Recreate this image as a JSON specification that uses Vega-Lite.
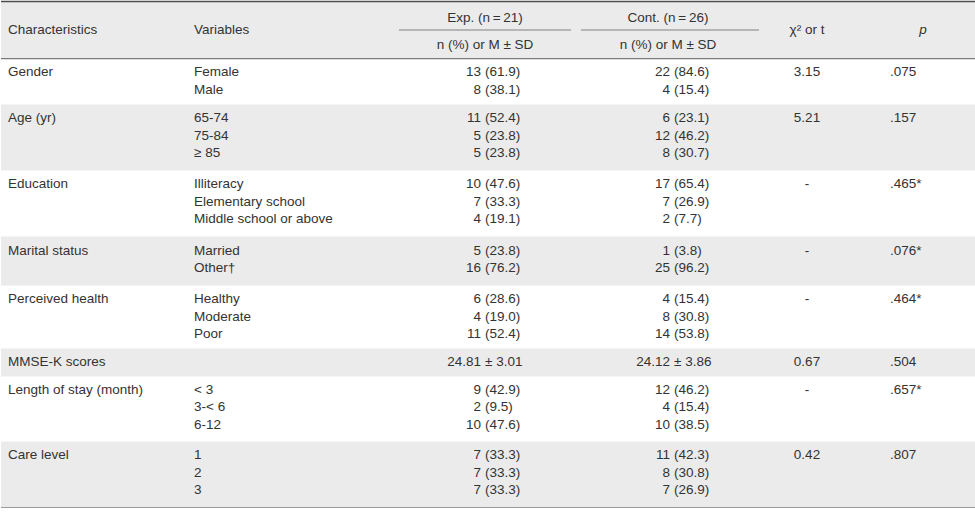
{
  "$schema": "https://vega.github.io/schema/vega-lite/v6.json",
  "width": 975,
  "height": 513,
  "autosize": {"type": "fit", "contains": "padding"},
  "padding": 0,
  "background": "#ffffff",
  "config": {
    "view": {"stroke": null},
    "text": {"font": "Liberation Sans", "fontSize": 13.5, "color": "#333333", "baseline": "middle"}
  },
  "datasets": {
    "bands": [
      {"part": "header", "r1": 0, "r2": 4},
      {"part": "Age (yr)", "r1": 6.5, "r2": 9.5},
      {"part": "Marital status", "r1": 12.5, "r2": 14.5},
      {"part": "MMSE-K scores", "r1": 17.5, "r2": 18.5},
      {"part": "Care level", "r1": 21.5, "r2": 24.5}
    ],
    "edges": [
      {"edge": "top", "at": 0},
      {"edge": "head", "at": 4},
      {"edge": "bottom", "at": 24.5}
    ],
    "spans": [
      {"group": "Exp.", "from": 3, "to": 7},
      {"group": "Cont.", "from": 8, "to": 12}
    ],
    "header": [
      {"label": "Characteristics", "col": 1, "line": 2},
      {"label": "Variables", "col": 2, "line": 2},
      {"label": "Exp. (n\u2009=\u200921)", "col": 5, "line": 1},
      {"label": "n (%) or M \u00b1 SD", "col": 5, "line": 3},
      {"label": "Cont. (n\u2009=\u200926)", "col": 10, "line": 1},
      {"label": "n (%) or M \u00b1 SD", "col": 10, "line": 3},
      {"label": "\u03c7\u00b2 or t", "col": 13, "line": 2},
      {"label": "p", "col": 15, "line": 2}
    ],
    "rows": [
      {"r": 5, "char": "Gender", "var": "Female", "en": "13", "ep": "(61.9)", "cn": "22", "cp": "(84.6)", "stat": "3.15", "p": ".075"},
      {"r": 6, "var": "Male", "en": "8", "ep": "(38.1)", "cn": "4", "cp": "(15.4)"},
      {"r": 7, "char": "Age (yr)", "var": "65-74", "en": "11", "ep": "(52.4)", "cn": "6", "cp": "(23.1)", "stat": "5.21", "p": ".157"},
      {"r": 8, "var": "75-84", "en": "5", "ep": "(23.8)", "cn": "12", "cp": "(46.2)"},
      {"r": 9, "var": "\u2265 85", "en": "5", "ep": "(23.8)", "cn": "8", "cp": "(30.7)"},
      {"r": 10, "char": "Education", "var": "Illiteracy", "en": "10", "ep": "(47.6)", "cn": "17", "cp": "(65.4)", "stat": "-", "p": ".465*"},
      {"r": 11, "var": "Elementary school", "en": "7", "ep": "(33.3)", "cn": "7", "cp": "(26.9)"},
      {"r": 12, "var": "Middle school or above", "en": "4", "ep": "(19.1)", "cn": "2", "cp": "(7.7)"},
      {"r": 13, "char": "Marital status", "var": "Married", "en": "5", "ep": "(23.8)", "cn": "1", "cp": "(3.8)", "stat": "-", "p": ".076*"},
      {"r": 14, "var": "Other\u2020", "en": "16", "ep": "(76.2)", "cn": "25", "cp": "(96.2)"},
      {"r": 15, "char": "Perceived health", "var": "Healthy", "en": "6", "ep": "(28.6)", "cn": "4", "cp": "(15.4)", "stat": "-", "p": ".464*"},
      {"r": 16, "var": "Moderate", "en": "4", "ep": "(19.0)", "cn": "8", "cp": "(30.8)"},
      {"r": 17, "var": "Poor", "en": "11", "ep": "(52.4)", "cn": "14", "cp": "(53.8)"},
      {"r": 18, "char": "MMSE-K scores", "en": "24.81", "ep": "\u00b1 3.01", "cn": "24.12", "cp": "\u00b1 3.86", "stat": "0.67", "p": ".504"},
      {"r": 19, "char": "Length of stay (month)", "var": "< 3", "en": "9", "ep": "(42.9)", "cn": "12", "cp": "(46.2)", "stat": "-", "p": ".657*"},
      {"r": 20, "var": "3-< 6", "en": "2", "ep": "(9.5)", "cn": "4", "cp": "(15.4)"},
      {"r": 21, "var": "6-12", "en": "10", "ep": "(47.6)", "cn": "10", "cp": "(38.5)"},
      {"r": 22, "char": "Care level", "var": "1", "en": "7", "ep": "(33.3)", "cn": "11", "cp": "(42.3)", "stat": "0.42", "p": ".807"},
      {"r": 23, "var": "2", "en": "7", "ep": "(33.3)", "cn": "8", "cp": "(30.8)"},
      {"r": 24, "var": "3", "en": "7", "ep": "(33.3)", "cn": "7", "cp": "(26.9)"}
    ]
  },
  "layer": [
    {
      "data": {"name": "bands"},
      "mark": {"type": "rect", "color": "#ebebeb"},
      "encoding": {
        "x": {"datum": 0, "type": "quantitative", "axis": null, "scale": {"type": "linear", "zero": false, "nice": false, "domain": [0,1,2,3,4,5,6,7,8,9,10,11,12,13,14,15,16], "range": [0,7,193,398,480,484,484,570,580,669,667,673,758,806,889,922,975]}},
        "x2": {"datum": 16},
        "y": {"field": "r1", "type": "quantitative", "axis": null, "scale": {"type": "linear", "zero": false, "nice": false, "domain": [0,1,2,3,4,5,6,6.5,7,8,9,9.5,10,11,12,12.5,13,14,14.5,15,16,17,17.5,18,18.5,19,20,21,21.5,22,23,24,24.5], "range": [1.5,18,30,45,58.5,72,89.6,104.5,118,135.6,153.2,170.5,184,201.6,219.2,236.5,250.5,268,285.5,299,316.6,334.2,348.5,362,376.5,389.5,407,424.5,441.5,455,472.6,490.2,507.5]}},
        "y2": {"field": "r2"}
      }
    },
    {
      "data": {"name": "edges"},
      "mark": {"type": "rule"},
      "encoding": {
        "x": {"datum": 0, "type": "quantitative"},
        "x2": {"datum": 16},
        "y": {"field": "at", "type": "quantitative"},
        "color": {"field": "edge", "type": "nominal", "legend": null, "scale": {"domain": ["top", "head", "bottom"], "range": ["#4d4d4d", "#7a7a7a", "#9a9a9a"]}},
        "strokeWidth": {"field": "edge", "type": "nominal", "legend": null, "scale": {"domain": ["top", "head", "bottom"], "range": [1.5, 1, 2]}}
      }
    },
    {
      "data": {"name": "spans"},
      "mark": {"type": "rule", "color": "#808080", "strokeWidth": 1},
      "encoding": {
        "x": {"field": "from", "type": "quantitative"},
        "x2": {"field": "to"},
        "y": {"datum": 2, "type": "quantitative"}
      }
    },
    {
      "data": {"name": "header"},
      "transform": [{"filter": "datum.col <= 2"}],
      "mark": {"type": "text", "align": "left"},
      "encoding": {
        "x": {"field": "col", "type": "quantitative"},
        "y": {"field": "line", "type": "quantitative"},
        "text": {"field": "label"}
      }
    },
    {
      "data": {"name": "header"},
      "transform": [{"filter": "datum.col > 2 && datum.label != 'p'"}],
      "mark": {"type": "text", "align": "center"},
      "encoding": {
        "x": {"field": "col", "type": "quantitative"},
        "y": {"field": "line", "type": "quantitative"},
        "text": {"field": "label"}
      }
    },
    {
      "data": {"name": "header"},
      "transform": [{"filter": "datum.label == 'p'"}],
      "mark": {"type": "text", "align": "center", "fontStyle": "italic"},
      "encoding": {
        "x": {"field": "col", "type": "quantitative"},
        "y": {"field": "line", "type": "quantitative"},
        "text": {"field": "label"}
      }
    },
    {
      "data": {"name": "rows"},
      "transform": [{"filter": "isValid(datum.char)"}],
      "mark": {"type": "text", "align": "left"},
      "encoding": {"x": {"datum": 1, "type": "quantitative"}, "y": {"field": "r", "type": "quantitative"}, "text": {"field": "char"}}
    },
    {
      "data": {"name": "rows"},
      "transform": [{"filter": "isValid(datum.var)"}],
      "mark": {"type": "text", "align": "left"},
      "encoding": {"x": {"datum": 2, "type": "quantitative"}, "y": {"field": "r", "type": "quantitative"}, "text": {"field": "var"}}
    },
    {
      "data": {"name": "rows"},
      "mark": {"type": "text", "align": "right"},
      "encoding": {"x": {"datum": 4, "type": "quantitative"}, "y": {"field": "r", "type": "quantitative"}, "text": {"field": "en"}}
    },
    {
      "data": {"name": "rows"},
      "mark": {"type": "text", "align": "left"},
      "encoding": {"x": {"datum": 6, "type": "quantitative"}, "y": {"field": "r", "type": "quantitative"}, "text": {"field": "ep"}}
    },
    {
      "data": {"name": "rows"},
      "mark": {"type": "text", "align": "right"},
      "encoding": {"x": {"datum": 9, "type": "quantitative"}, "y": {"field": "r", "type": "quantitative"}, "text": {"field": "cn"}}
    },
    {
      "data": {"name": "rows"},
      "mark": {"type": "text", "align": "left"},
      "encoding": {"x": {"datum": 11, "type": "quantitative"}, "y": {"field": "r", "type": "quantitative"}, "text": {"field": "cp"}}
    },
    {
      "data": {"name": "rows"},
      "transform": [{"filter": "isValid(datum.stat)"}],
      "mark": {"type": "text", "align": "center"},
      "encoding": {"x": {"datum": 13, "type": "quantitative"}, "y": {"field": "r", "type": "quantitative"}, "text": {"field": "stat"}}
    },
    {
      "data": {"name": "rows"},
      "transform": [{"filter": "isValid(datum.p)"}],
      "mark": {"type": "text", "align": "left"},
      "encoding": {"x": {"datum": 14, "type": "quantitative"}, "y": {"field": "r", "type": "quantitative"}, "text": {"field": "p"}}
    }
  ]
}
